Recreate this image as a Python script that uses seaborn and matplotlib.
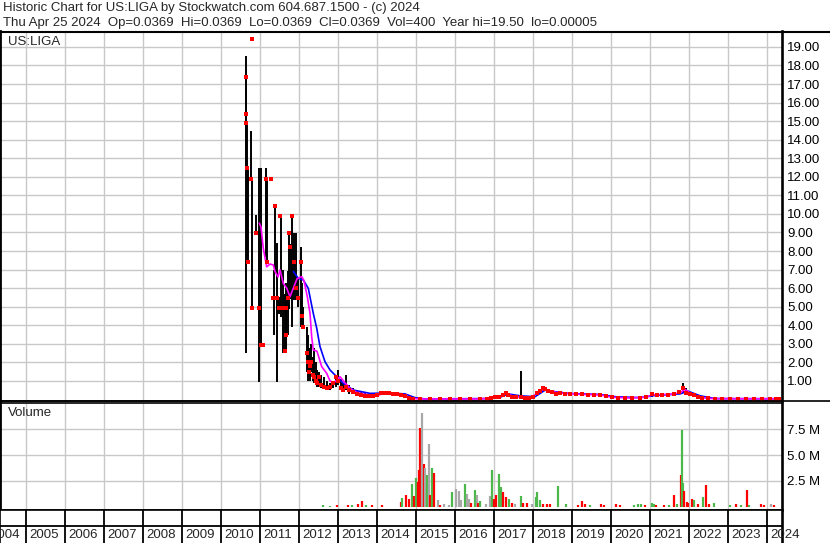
import matplotlib
matplotlib.use('Agg')
import matplotlib.pyplot as plt
from matplotlib.lines import Line2D
import pandas as pd
import seaborn as sns

# price bars (fractional year, high, low, close)
bar_t = [2010.638, 2010.649, 2010.659, 2010.672, 2010.692, 2010.785, 2010.795, 2010.803, 2010.913, 2010.974,
         2011.021, 2011.092, 2011.172, 2011.197, 2011.277, 2011.333, 2011.379, 2011.400, 2011.444, 2011.503,
         2011.528, 2011.546, 2011.610, 2011.636, 2011.662, 2011.687, 2011.713, 2011.751, 2011.777, 2011.828,
         2011.879, 2011.918, 2011.982, 2012.059, 2012.085, 2012.123, 2012.200, 2012.231, 2012.264, 2012.290,
         2012.328, 2012.354, 2012.390, 2012.431, 2012.479, 2012.531, 2012.579, 2012.649, 2012.726, 2012.803,
         2012.892, 2012.964, 2013.008, 2013.072, 2013.136, 2013.213, 2013.290, 2013.392, 2013.495, 2013.597,
         2013.700, 2013.803, 2013.905, 2014.008, 2014.110, 2014.213, 2014.315, 2014.418, 2014.521, 2014.623,
         2014.726, 2014.828, 2014.931, 2015.110, 2015.367, 2015.623, 2015.879, 2016.136, 2016.392, 2016.649,
         2016.828, 2016.931, 2017.033, 2017.136, 2017.238, 2017.303, 2017.367, 2017.469, 2017.572, 2017.708,
         2017.803, 2017.905, 2018.008, 2018.110, 2018.187, 2018.254, 2018.315, 2018.405, 2018.495, 2018.597,
         2018.700, 2018.828, 2018.956, 2019.110, 2019.264, 2019.418, 2019.572, 2019.726, 2019.879, 2020.033,
         2020.187, 2020.367, 2020.546, 2020.751, 2020.905, 2021.059, 2021.187, 2021.315, 2021.469, 2021.623,
         2021.751, 2021.854, 2021.931, 2022.033, 2022.136, 2022.238, 2022.341, 2022.495, 2022.674, 2022.854,
         2023.059, 2023.264, 2023.469, 2023.674, 2023.879, 2024.085, 2024.238, 2024.328]
bar_hi = [18.5, 17.5, 15.4, 15.0, 12.5, 14.46, 19.45, 11.9, 9.94, 12.5,
          12.5, 3.0, 12.5, 11.9, 11.95, 5.5, 6.98, 10.47, 8.43, 5.5,
          9.95, 9.94, 7.0, 5.7, 6.3, 5.7, 6.9, 8.97, 8.4, 9.94,
          8.97, 8.97, 6.5, 8.2, 6.3, 5.0, 3.9, 3.5, 2.8, 2.5,
          3.0, 2.3, 2.8, 2.0, 1.6, 1.5, 1.3, 1.2, 1.0, 0.9,
          1.0, 1.3, 1.6, 1.1, 0.9, 1.3, 0.8, 0.6, 0.5, 0.45,
          0.35, 0.3, 0.25, 0.3, 0.4, 0.42, 0.4, 0.4, 0.35, 0.32,
          0.28, 0.15, 0.08, 0.04, 0.03, 0.03, 0.03, 0.03, 0.03, 0.04,
          0.06, 0.12, 0.15, 0.2, 0.3, 0.42, 0.35, 0.25, 0.2, 1.53,
          0.15, 0.15, 0.2, 0.38, 0.5, 0.69, 0.7, 0.55, 0.48, 0.45,
          0.4, 0.38, 0.35, 0.33, 0.32, 0.32, 0.3, 0.3, 0.25, 0.2,
          0.15, 0.12, 0.12, 0.14, 0.2, 0.3, 0.32, 0.32, 0.3, 0.35,
          0.45, 0.9, 0.6, 0.4, 0.35, 0.25, 0.15, 0.1, 0.08, 0.07,
          0.06, 0.08, 0.06, 0.06, 0.07, 0.06, 0.05, 0.0369]
bar_lo = [12.5, 12.4, 2.5, 7.4, 7.42, 11.9, 19.35, 4.95, 8.98, 0.96,
          2.9, 2.9, 7.7, 7.42, 11.85, 5.4, 3.47, 6.9, 0.96, 4.6,
          9.85, 4.46, 2.5, 2.5, 2.5, 2.6, 3.5, 4.9, 5.4, 3.92,
          5.36, 5.36, 5.0, 3.92, 4.5, 3.9, 1.5, 1.0, 1.2, 1.0,
          1.5, 1.0, 0.9, 0.8, 0.7, 0.7, 0.6, 0.6, 0.5, 0.5,
          0.6, 0.7, 0.8, 0.5, 0.4, 0.5, 0.3, 0.3, 0.25, 0.2,
          0.18, 0.15, 0.15, 0.18, 0.28, 0.3, 0.3, 0.28, 0.25, 0.2,
          0.15, 0.05, 0.02, 0.01, 0.01, 0.01, 0.01, 0.01, 0.01, 0.01,
          0.02, 0.05, 0.08, 0.1, 0.15, 0.25, 0.2, 0.1, 0.1, 0.12,
          0.08, 0.08, 0.1, 0.2, 0.3, 0.4, 0.45, 0.35, 0.3, 0.28,
          0.25, 0.25, 0.25, 0.25, 0.22, 0.22, 0.2, 0.2, 0.15, 0.1,
          0.08, 0.06, 0.06, 0.07, 0.1, 0.15, 0.2, 0.2, 0.2, 0.22,
          0.3, 0.35, 0.3, 0.2, 0.2, 0.1, 0.06, 0.04, 0.03, 0.03,
          0.03, 0.03, 0.03, 0.03, 0.03, 0.03, 0.03, 0.0369]
bar_cl = [17.4, 15.4, 14.9, 12.45, 7.42, 11.9, 19.4, 4.95, 8.98, 4.95,
          2.94, 2.94, 11.9, 7.42, 11.9, 5.45, 5.45, 10.4, 5.45, 4.95,
          9.9, 4.95, 4.95, 2.6, 3.5, 4.95, 5.45, 8.97, 8.2, 9.9,
          7.42, 6.0, 5.45, 7.42, 4.5, 3.92, 2.5, 2.0, 1.5, 1.8,
          2.0, 1.3, 1.2, 1.0, 0.9, 1.2, 0.8, 0.7, 0.6, 0.7,
          0.9, 1.2, 1.0, 0.6, 0.5, 0.7, 0.5, 0.4, 0.3, 0.25,
          0.2, 0.2, 0.18, 0.25, 0.35, 0.35, 0.33, 0.3, 0.3, 0.25,
          0.18, 0.08, 0.04, 0.02, 0.02, 0.02, 0.02, 0.02, 0.02, 0.03,
          0.05, 0.1, 0.12, 0.15, 0.25, 0.35, 0.22, 0.12, 0.12, 0.12,
          0.1, 0.1, 0.15, 0.35, 0.45, 0.62, 0.55, 0.45, 0.4, 0.3,
          0.35, 0.3, 0.3, 0.28, 0.28, 0.25, 0.22, 0.25, 0.2, 0.12,
          0.1, 0.08, 0.08, 0.1, 0.15, 0.28, 0.25, 0.25, 0.25, 0.3,
          0.4, 0.6, 0.35, 0.3, 0.25, 0.12, 0.08, 0.06, 0.05, 0.04,
          0.04, 0.05, 0.04, 0.04, 0.05, 0.04, 0.04, 0.0369]

# moving averages
fast_t = [2010.990, 2011.033, 2011.092, 2011.179, 2011.264, 2011.349, 2011.392, 2011.469, 2011.521, 2011.605,
          2011.692, 2011.777, 2011.862, 2011.956, 2012.077, 2012.136, 2012.221, 2012.290, 2012.333, 2012.374,
          2012.469, 2012.590, 2012.718, 2012.803, 2012.905, 2013.059, 2013.187, 2013.315, 2013.469, 2013.649,
          2013.828, 2014.033, 2014.162, 2014.341, 2014.597, 2014.751, 2014.905, 2015.110, 2016.649, 2016.905,
          2017.162, 2017.315, 2017.469, 2017.674, 2017.931, 2018.110, 2018.290, 2018.444, 2018.700, 2019.213,
          2019.726, 2020.033, 2020.495, 2020.879, 2021.085, 2021.521, 2021.777, 2021.905, 2022.033, 2022.290,
          2022.597, 2023.315, 2024.328]
fast_v = [9.5, 9.3, 8.15, 7.15, 7.3, 7.25, 6.9, 6.6, 6.98, 6.26,
          6.0, 5.54, 6.0, 6.5, 6.62, 6.4, 5.54, 4.64, 3.38, 2.67,
          2.6, 1.77, 1.41, 1.0, 0.9, 1.23, 0.9, 0.6, 0.4, 0.3,
          0.22, 0.22, 0.33, 0.35, 0.3, 0.2, 0.06, 0.03, 0.03, 0.08,
          0.18, 0.33, 0.2, 0.12, 0.12, 0.3, 0.6, 0.45, 0.35, 0.28,
          0.25, 0.12, 0.08, 0.12, 0.25, 0.28, 0.35, 0.55, 0.35, 0.1,
          0.05, 0.04, 0.04]
slow_t = [2011.862, 2011.990, 2012.118, 2012.246, 2012.374, 2012.462, 2012.546, 2012.674, 2012.803, 2012.974,
          2013.144, 2013.400, 2013.828, 2014.341, 2014.726, 2014.982, 2015.238, 2016.905, 2017.162, 2017.367,
          2017.674, 2018.059, 2018.315, 2018.572, 2018.956, 2019.726, 2020.110, 2020.751, 2021.136, 2021.777,
          2021.982, 2022.290, 2022.674, 2024.328]
slow_v = [6.9, 6.53, 6.44, 5.99, 4.64, 3.84, 2.85, 2.04, 1.59, 1.23,
          0.87, 0.51, 0.33, 0.35, 0.3, 0.1, 0.03, 0.05, 0.12, 0.3,
          0.2, 0.15, 0.5, 0.42, 0.32, 0.27, 0.15, 0.1, 0.22, 0.3,
          0.45, 0.2, 0.05, 0.04]

# volume in millions, colour code r=down g=up n=unchanged
vol_t = [2012.62, 2012.80, 2012.98, 2013.26, 2013.37, 2013.52, 2013.62, 2013.73, 2013.88, 2014.14,
         2014.62, 2014.66, 2014.75, 2014.83, 2014.91, 2014.96, 2015.01, 2015.05, 2015.08, 2015.12,
         2015.16, 2015.21, 2015.25, 2015.28, 2015.34, 2015.37, 2015.41, 2015.48, 2015.56, 2015.62,
         2015.73, 2015.85, 2015.94, 2016.03, 2016.10, 2016.16, 2016.26, 2016.31, 2016.37, 2016.42,
         2016.52, 2016.56, 2016.60, 2016.66, 2016.80, 2016.91, 2016.96, 2017.01, 2017.05, 2017.14,
         2017.19, 2017.23, 2017.31, 2017.39, 2017.47, 2017.55, 2017.71, 2017.76, 2017.85, 2017.97,
         2018.08, 2018.12, 2018.19, 2018.27, 2018.36, 2018.44, 2018.64, 2018.85, 2019.16, 2019.26,
         2019.34, 2019.47, 2019.75, 2019.83, 2020.14, 2020.24, 2020.60, 2020.70, 2020.78, 2020.88,
         2021.05, 2021.11, 2021.16, 2021.37, 2021.50, 2021.62, 2021.71, 2021.79, 2021.82, 2021.85,
         2021.89, 2021.95, 2021.99, 2022.08, 2022.14, 2022.23, 2022.36, 2022.44, 2022.52, 2022.65,
         2023.06, 2023.20, 2023.34, 2023.49, 2023.55, 2023.85, 2023.93, 2024.11, 2024.19]
vol_v = [0.10, 0.08, 0.12, 0.15, 0.10, 0.20, 0.50, 0.15, 0.10, 0.15,
         0.40, 0.80, 1.10, 0.70, 2.20, 1.00, 2.80, 2.40, 3.50, 7.60,
         9.10, 4.10, 3.70, 3.10, 6.10, 1.10, 3.70, 3.30, 0.60, 0.10,
         0.20, 0.15, 1.45, 1.70, 1.50, 0.60, 2.20, 1.20, 0.75, 0.30,
         1.60, 1.10, 0.35, 0.50, 0.20, 1.00, 3.50, 0.70, 1.10, 3.20,
         1.90, 1.40, 0.90, 0.75, 0.35, 0.20, 1.00, 0.35, 0.30, 0.25,
         0.90, 1.40, 0.60, 0.25, 0.25, 0.20, 2.00, 0.25, 0.15, 0.50,
         0.20, 0.10, 0.20, 0.15, 0.20, 0.15, 0.15, 0.20, 0.20, 0.10,
         0.37, 0.25, 0.15, 0.15, 0.10, 1.10, 0.20, 3.05, 7.40, 2.25,
         1.50, 0.40, 0.30, 0.70, 0.60, 0.25, 0.95, 2.10, 0.25, 0.30,
         0.10, 0.20, 0.15, 1.60, 0.15, 0.20, 0.15, 0.20, 0.10]
vol_c = list('ggrrgrrgrr'
             'rgrrgrgrrr'
             'nrngnrgrnr'
             'nngnnngnnr'
             'gnrgnngrrg'
             'grrgrngrrn'
             'gggrrrggrr'
             'rgrrrrgggr'
             'ggrrgrgrgg'
             'rrrrgrgrrg'
             'grgrgrrnr')

years = list(range(2004, 2025))
price_ticks = list(range(1, 20))
vol_ticks = [2.5, 5.0, 7.5]

header1 = 'Historic Chart for US:LIGA by Stockwatch.com 604.687.1500 - (c) 2024'
header2 = ('Thu Apr 25 2024  Op=0.0369  Hi=0.0369  Lo=0.0369  Cl=0.0369  '
           'Vol=400  Year hi=19.50  lo=0.00005')

sns.set_style('white')
plt.rcParams['font.family'] = ['Liberation Sans', 'DejaVu Sans']

W, H = 830, 543
fig = plt.figure(figsize=(W / 100, H / 100), dpi=100)
right = 781.7 / W

def fy(py):
    return 1 - py / H

ax = fig.add_axes([0, fy(400.5), right, (400.5 - 31.5) / H])
axv = fig.add_axes([0, fy(509.5), right, (509.5 - 402.5) / H])
axs = fig.add_axes([0, 0, right, 33.5 / H])

xmin = 2011 - 259.7 / 39
xmax = 2011 + (781.7 - 259.7) / 39
grid_c = '#c8c8c8'

# price panel
ax.vlines(bar_t, bar_lo, bar_hi, color='black', lw=1.4, zorder=3)
sns.lineplot(x=slow_t, y=slow_v, color='#0000ff', lw=1.2, ax=ax, zorder=4)
sns.lineplot(x=fast_t, y=fast_v, color='#ff00ff', lw=1.2, ax=ax, zorder=5)
sns.scatterplot(x=bar_t, y=bar_cl, marker='s', s=7, color='#ff0000', linewidth=0, ax=ax, zorder=6)
ax.set_yticks(price_ticks)
ax.set_yticklabels([f'{v:.2f}' for v in price_ticks])
ax.set_ylim(-0.054, 19.83)

# volume panel
vdf = pd.DataFrame({'t': vol_t, 'v': vol_v, 'c': vol_c})
cmap = {'r': '#ff0000', 'g': '#4cb84c', 'n': '#a8a8a8'}
axv.vlines(vdf['t'], 0, vdf['v'], colors=[cmap[c] for c in vdf['c']], lw=1.6, zorder=3)
axv.set_yticks(vol_ticks)
axv.set_yticklabels([f'{v:.1f} M' for v in vol_ticks])
axv.set_ylim(-0.29, 10.1)

for a in (ax, axv):
    a.set_xticks(years)
    a.set_xticklabels([])
    a.set_xlim(xmin, xmax)
    a.grid(True, color=grid_c, lw=1)
    a.set_axisbelow(True)
    a.yaxis.tick_right()
    a.tick_params(axis='y', length=0, pad=4, labelsize=9.5, colors='black')
    a.tick_params(axis='x', length=0)
    a.set_xlabel('')
    a.set_ylabel('')
    for s in a.spines.values():
        s.set_color('black')
        s.set_linewidth(1.2)
    a.spines['right'].set_linewidth(1.9)
    a.spines['left'].set_linewidth(2)

# year strip
axs.set_ylim(0, 1)
axs.set_xticks([])
axs.set_yticks([])
for y in years:
    axs.axvline(y, color='black', lw=1.3)
    axs.text(y + 0.1, 0.24, str(y), ha='left', va='center', fontsize=9.5, clip_on=False)
axs.axhline(0.5, color='black', lw=1.3)
axs.set_xlim(xmin, xmax)
for s in axs.spines.values():
    s.set_color('black')
    s.set_linewidth(1.2)
axs.spines['right'].set_linewidth(1.9)
axs.spines['bottom'].set_visible(False)

# full-width rules and labels
fig.add_artist(Line2D([0, 1], [fy(31.5), fy(31.5)], color='black', lw=1.5))
fig.add_artist(Line2D([0, 1], [fy(400.5), fy(400.5)], color='black', lw=1.2))
fig.text(3 / W, fy(8.5), header1, fontsize=9.5, va='center', ha='left')
fig.text(3 / W, fy(23), header2, fontsize=9.5, va='center', ha='left')
fig.text(8 / W, fy(42), 'US:LIGA', fontsize=9.5, va='center', ha='left')
fig.text(8 / W, fy(413), 'Volume', fontsize=9.5, va='center', ha='left')

fig.savefig('out.png', dpi=100)
